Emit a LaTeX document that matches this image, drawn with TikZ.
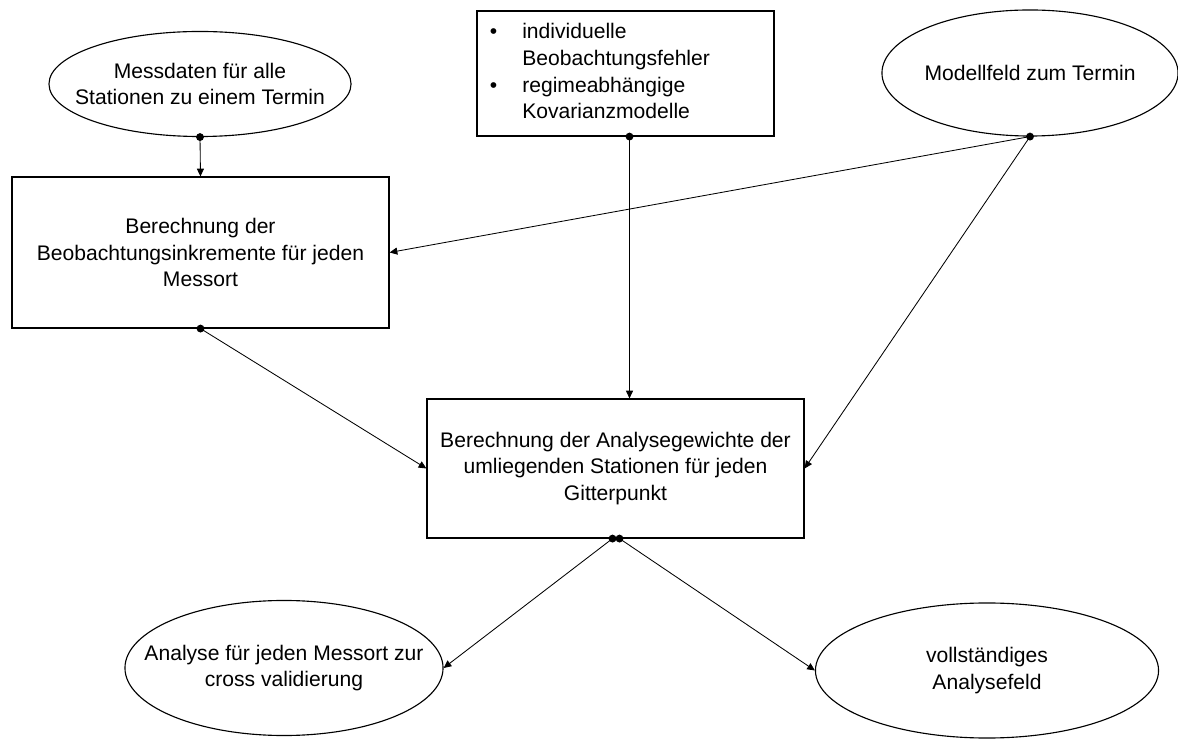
\documentclass[tikz,border=0pt]{standalone}
\usepackage{fontspec}
\setmainfont{Liberation Sans}
\usetikzlibrary{arrows.meta, calc, shapes.geometric}

\begin{document}
\begin{tikzpicture}[x=0.025cm, y=-0.025cm,
  >={Triangle[length=5.5pt, width=5pt]},
  font=\fontsize{15}{19}\selectfont,
  oval/.style={ellipse, draw, line width=0.8pt, inner sep=0pt},
  inhalt/.style={label={[align=center]center:#1}},
  kasten/.style={rectangle, draw, line width=0.8pt, inner sep=0pt, align=center},
  pfeil/.style={->, line width=0.6pt}]

\useasboundingbox (0,0) rectangle (1178,740);

% =========== Eingaben ===========
\node[oval, minimum width=7.55cm, minimum height=2.625cm,
      inhalt={Messdaten für alle\\Stationen zu einem Termin}] (mess) at (200,84) {};

\node[kasten, minimum width=7.425cm, minimum height=3.125cm,
      text width=6.775cm, align=left] (fehler) at (625.5,73.5)
  {\begin{tabular}{@{}p{23pt}@{}l@{}}
   \textbullet & individuelle\\
               & Beobachtungsfehler\\
   \textbullet & regimeabhängige\\
               & Kovarianzmodelle
   \end{tabular}};

\node[oval, minimum width=7.4cm, minimum height=3.15cm,
      inhalt={Modellfeld zum Termin}] (modell) at (1030,73) {};

% =========== Berechnungen ===========
\node[kasten, minimum width=9.425cm, minimum height=3.775cm] (inkr) at (200.5,252.5)
  {Berechnung der\\Beobachtungsinkremente für jeden\\Messort};

\node[kasten, minimum width=9.425cm, minimum height=3.475cm] (gewicht) at (615.5,468.5)
  {Berechnung der Analysegewichte der\\umliegenden Stationen für jeden\\Gitterpunkt};

% =========== Ergebnisse ===========
\node[oval, minimum width=7.95cm, minimum height=3.375cm,
      inhalt={Analyse für jeden Messort zur\\cross validierung}] (cross) at (284,668) {};

\node[oval, minimum width=8.575cm, minimum height=3.375cm,
      inhalt={vollständiges\\Analysefeld}] (voll) at (987,670.5) {};

% Ankerpunkte
\coordinate (fdot) at ($(fehler.south)+(4,0)$);
\coordinate (gwl) at ($(gewicht.south)+(-3,0)$);
\coordinate (gwr) at ($(gewicht.south)+(4,0)$);
\foreach \p in {mess.south, fdot, modell.south, inkr.south, gwl, gwr}
  \fill (\p) circle (2.8pt);

% Pfeile
\draw[pfeil] (mess.south) -- (inkr.north);
\draw[pfeil] (modell.south) -- (inkr.east);
\draw[pfeil] (modell.south) -- (gewicht.east);
\draw[pfeil] (fdot) -- (fdot |- gewicht.north);
\draw[pfeil] (inkr.south) -- (gewicht.west);
\draw[pfeil] (gwl) -- (cross.east);
\draw[pfeil] (gwr) -- (voll.west);

\end{tikzpicture}
\end{document}
